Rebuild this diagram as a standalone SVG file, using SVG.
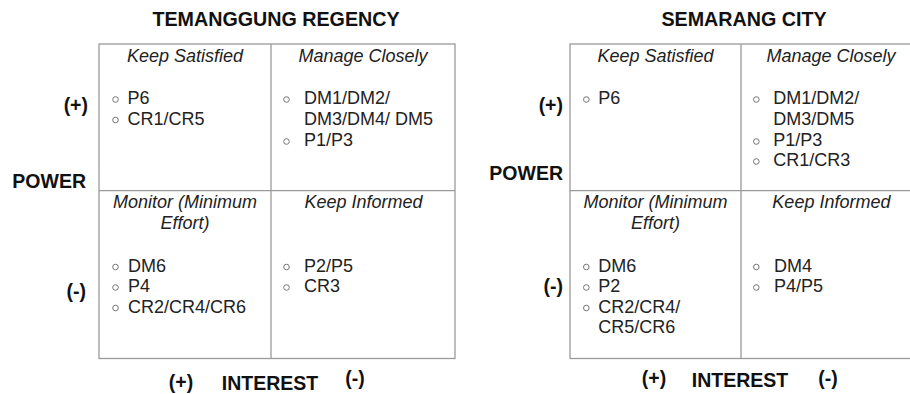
<svg xmlns="http://www.w3.org/2000/svg" width="910" height="394" viewBox="0 0 910 394">
<style>
.bg{fill:#ffffff}
.grid{fill:none;stroke:#9a9a9a;stroke-width:1.3}
.t{font-family:"Liberation Sans",Arial,sans-serif;fill:#111}
.title{font-size:19.7px;font-weight:bold;text-anchor:middle}
.ax{font-size:19.5px;font-weight:bold}
.hd{font-size:18px;font-style:italic;text-anchor:middle;fill:#222}
.it{font-size:18px;fill:#222}
.b{fill:none;stroke:#666;stroke-width:0.9}
</style>
<rect class="bg" x="0" y="0" width="910" height="394"/>

<g id="temanggung">
  <text class="t title" x="276" y="26">TEMANGGUNG REGENCY</text>
  <g id="tem-grid">
    <rect class="grid" x="99" y="44" width="356" height="314.5"/>
    <line class="grid" x1="271" y1="44" x2="271" y2="358.5"/>
    <line class="grid" x1="99" y1="190.7" x2="455" y2="190.7"/>
  </g>
  <g id="tem-axes">
    <text class="t ax" x="88" y="112" text-anchor="end">(+)</text>
    <text class="t ax" x="86" y="188" text-anchor="end">POWER</text>
    <text class="t ax" x="86" y="298" text-anchor="end">(-)</text>
    <text class="t ax" x="181" y="388.5" text-anchor="middle">(+)</text>
    <text class="t ax" x="270" y="389.5" text-anchor="middle">INTEREST</text>
    <text class="t ax" x="355" y="384.5" text-anchor="middle">(-)</text>
  </g>
  <g id="tem-keep-satisfied">
    <text class="t hd" x="185" y="62">Keep Satisfied</text>
    <circle class="b" cx="115.5" cy="99.5" r="2.8"/>
    <text class="t it" x="127.5" y="104">P6</text>
    <circle class="b" cx="115.5" cy="120" r="2.8"/>
    <text class="t it" x="127.5" y="124.5">CR1/CR5</text>
  </g>
  <g id="tem-manage-closely">
    <text class="t hd" x="363" y="62">Manage Closely</text>
    <circle class="b" cx="286.5" cy="99.5" r="2.8"/>
    <text class="t it" x="304" y="104">DM1/DM2/</text>
    <text class="t it" x="304" y="124.5">DM3/DM4/ DM5</text>
    <circle class="b" cx="286.5" cy="141.5" r="2.8"/>
    <text class="t it" x="304" y="146">P1/P3</text>
  </g>
  <g id="tem-monitor">
    <text class="t hd" x="185" y="208">Monitor (Minimum</text>
    <text class="t hd" x="185" y="228.5">Effort)</text>
    <circle class="b" cx="115.5" cy="267" r="2.8"/>
    <text class="t it" x="128" y="271.5">DM6</text>
    <circle class="b" cx="115.5" cy="287.5" r="2.8"/>
    <text class="t it" x="128" y="292">P4</text>
    <circle class="b" cx="115.5" cy="308" r="2.8"/>
    <text class="t it" x="128" y="312.5">CR2/CR4/CR6</text>
  </g>
  <g id="tem-keep-informed">
    <text class="t hd" x="363.5" y="208">Keep Informed</text>
    <circle class="b" cx="286.5" cy="267" r="2.8"/>
    <text class="t it" x="304" y="271.5">P2/P5</text>
    <circle class="b" cx="286.5" cy="287.5" r="2.8"/>
    <text class="t it" x="304" y="292">CR3</text>
  </g>
</g>

<g id="semarang">
  <text class="t title" x="744" y="26">SEMARANG CITY</text>
  <g id="sem-grid">
    <rect class="grid" x="570" y="44" width="352" height="314.5"/>
    <line class="grid" x1="741" y1="44" x2="741" y2="358.5"/>
    <line class="grid" x1="570" y1="190.7" x2="922" y2="190.7"/>
  </g>
  <g id="sem-axes">
    <text class="t ax" x="563" y="112" text-anchor="end">(+)</text>
    <text class="t ax" x="563" y="180" text-anchor="end">POWER</text>
    <text class="t ax" x="563" y="293" text-anchor="end">(-)</text>
    <text class="t ax" x="654" y="384.5" text-anchor="middle">(+)</text>
    <text class="t ax" x="740" y="387.3" text-anchor="middle">INTEREST</text>
    <text class="t ax" x="828" y="384.5" text-anchor="middle">(-)</text>
  </g>
  <g id="sem-keep-satisfied">
    <text class="t hd" x="655.5" y="62">Keep Satisfied</text>
    <circle class="b" cx="586.3" cy="99.5" r="2.8"/>
    <text class="t it" x="598.3" y="104">P6</text>
  </g>
  <g id="sem-manage-closely">
    <text class="t hd" x="831" y="62">Manage Closely</text>
    <circle class="b" cx="756.3" cy="99.5" r="2.8"/>
    <text class="t it" x="773.3" y="104">DM1/DM2/</text>
    <text class="t it" x="773.3" y="124.5">DM3/DM5</text>
    <circle class="b" cx="756.3" cy="141.5" r="2.8"/>
    <text class="t it" x="773.3" y="146">P1/P3</text>
    <circle class="b" cx="756.3" cy="161.5" r="2.8"/>
    <text class="t it" x="773.3" y="166">CR1/CR3</text>
  </g>
  <g id="sem-monitor">
    <text class="t hd" x="655.5" y="208">Monitor (Minimum</text>
    <text class="t hd" x="655.5" y="228.5">Effort)</text>
    <circle class="b" cx="586.3" cy="267" r="2.8"/>
    <text class="t it" x="598.3" y="271.5">DM6</text>
    <circle class="b" cx="586.3" cy="287.5" r="2.8"/>
    <text class="t it" x="598.3" y="292">P2</text>
    <circle class="b" cx="586.3" cy="308" r="2.8"/>
    <text class="t it" x="598.3" y="312.5">CR2/CR4/</text>
    <text class="t it" x="598.3" y="333">CR5/CR6</text>
  </g>
  <g id="sem-keep-informed">
    <text class="t hd" x="831.4" y="208">Keep Informed</text>
    <circle class="b" cx="756.3" cy="267" r="2.8"/>
    <text class="t it" x="774" y="271.5">DM4</text>
    <circle class="b" cx="756.3" cy="287.5" r="2.8"/>
    <text class="t it" x="774" y="292">P4/P5</text>
  </g>
</g>
</svg>
